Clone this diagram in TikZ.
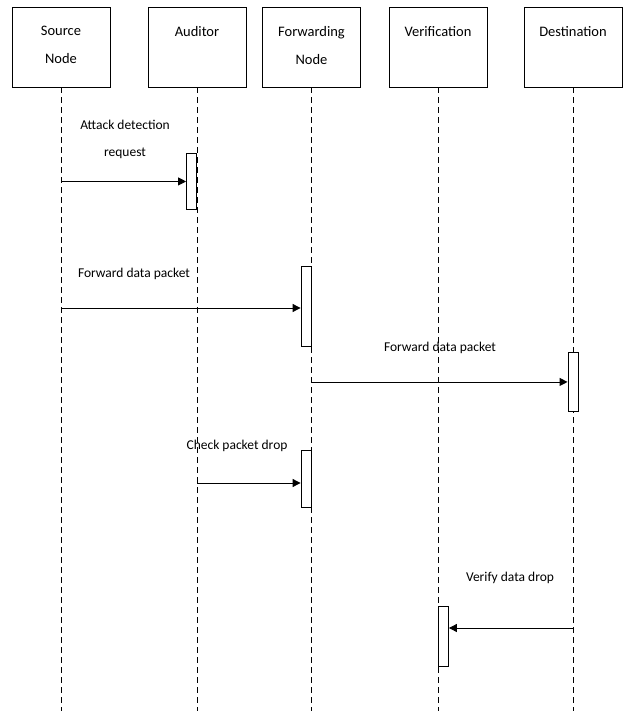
\documentclass[tikz,border=0pt]{standalone}
\usepackage{fontspec}
\setmainfont{Carlito}
\usetikzlibrary{arrows.meta}
\tikzset{
  actor/.style={draw, line width=0.9pt, minimum width=98pt, minimum height=80pt, inner sep=0pt,
    font=\fontsize{14.5}{28}\selectfont},
  lifeline/.style={dash pattern=on 6pt off 4pt, line width=0.8pt},
  active/.style={draw, fill=white, line width=0.9pt, minimum width=10pt, inner sep=0pt},
  msg/.style={-{Triangle[length=8pt,width=8pt]}, line width=0.9pt},
  msgtext/.style={font=\fontsize{13.5}{27}\selectfont, align=center, inner sep=0pt}
}
\newcommand\actorname[1]{\parbox[c][42pt][t]{94pt}{\centering #1}}
\begin{document}
\begin{tikzpicture}[x=1pt,y=-1pt]
  \useasboundingbox (0,0) rectangle (627,711);
  % participants
  \node[actor] (src) at (61,47) {\actorname{Source\\Node}};
  \node[actor] (aud) at (197,47) {\actorname{Auditor}};
  \node[actor] (fwd) at (311.5,47) {\actorname{Forwarding\\Node}};
  \node[actor] (ver) at (438,47) {\actorname{Verification}};
  \node[actor] (dst) at (573,47) {\actorname{Destination}};
  \foreach \p in {src,aud,fwd,ver,dst}
    \draw[lifeline] (\p.south) -- (\p.south |- 0,711);
  % activations
  \node[active, minimum height=56pt, anchor=north east] (act1) at (aud.south |- 0,153) {};
  \node[active, minimum height=80pt, anchor=north east] (act2) at (fwd.south |- 0,266) {};
  \node[active, minimum height=59pt, anchor=north] (act3) at (dst.south |- 0,352) {};
  \node[active, minimum height=57pt, anchor=north east] (act4) at (fwd.south |- 0,450) {};
  \node[active, minimum height=60pt, anchor=north west] (act5) at (ver.south |- 0,606) {};
  % messages
  \node[msgtext] (req) at (125,139) {Attack detection\\request};
  \draw[msg] (src.south |- act1.west) -- (act1.west);
  \node[msgtext] (fwd1) at (134,274) {Forward data packet};
  \draw[msg] (src.south |- 0,308) -- (act2.west |- 0,308);
  \node[msgtext] (fwd2) at (440,348) {Forward data packet};
  \draw[msg] (fwd.south |- act3.west) -- (act3.west);
  \node[msgtext] (chk) at (237,446) {Check packet drop};
  \draw[msg] (aud.south |- 0,483) -- (act4.west |- 0,483);
  \node[msgtext] (vfy) at (510,578) {Verify data drop};
  \draw[msg] (dst.south |- 0,628) -- (act5.east |- 0,628);
\end{tikzpicture}
\end{document}
